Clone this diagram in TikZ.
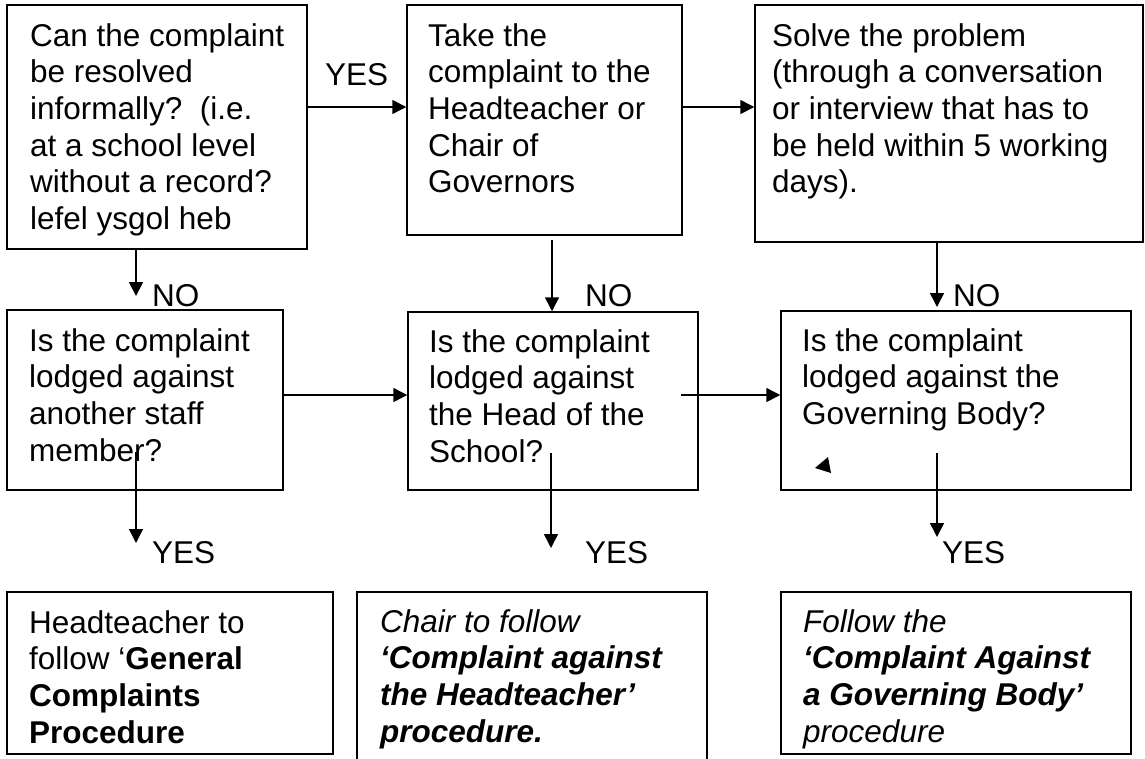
\documentclass[tikz,border=0pt]{standalone}
\usepackage{fontspec}
\setmainfont{Liberation Sans}
\usetikzlibrary{arrows.meta,fit}
% left-aligned block of lines; its baseline is that of the first line
\newcommand\flowtext[1]{\vtop{\baselineskip=36.7pt\lineskiplimit=-100pt\halign{##\hfil\cr#1\crcr}}}
\begin{document}
\begin{tikzpicture}[x=1pt,y=-1pt,
  box/.style={draw=black, line width=1.5pt, inner sep=0pt, fit={#1}},
  txt/.style={anchor=base west, inner sep=0pt, font=\fontsize{31.5}{36.7}\selectfont},
  arr/.style={line width=1.5pt, -{Triangle[length=14pt,width=14pt]}}]
\useasboundingbox (0,0) rectangle (1145,758);
\clip (0,0) rectangle (1145,758);

% boxes
\node[box={(7,5) (307,249)}] (A) {};
\node[box={(407,5) (682,235)}] (B) {};
\node[box={(755,5) (1143,242)}] (C) {};
\node[box={(7,310) (283,490)}] (D) {};
\node[box={(408,312) (698,490)}] (E) {};
\node[box={(781,311) (1131,490)}] (F) {};
\node[box={(7,592) (333,754)}] (G) {};
\node[box={(357,592) (707,790)}] (H) {};
\node[box={(781,592) (1131,754)}] (I) {};

% box texts
\node[txt] (At) at (30,46) {\flowtext{Can the complaint\cr be resolved\cr informally?\ \ (i.e.\cr at a school level\cr without a record?\cr lefel ysgol heb}};
\node[txt] (Bt) at (428,46) {\flowtext{Take the\cr complaint to the\cr Headteacher or\cr Chair of\cr Governors}};
\node[txt] (Ct) at (772,46) {\flowtext{Solve the problem\cr (through a conversation\cr or interview that has to\cr be held within 5 working\cr days).}};
\node[txt] (Dt) at (29,351) {\flowtext{Is the complaint\cr lodged against\cr another staff\cr member?}};
\node[txt] (Et) at (429,352) {\flowtext{Is the complaint\cr lodged against\cr the Head of the\cr School?}};
\node[txt] (Ft) at (802,351) {\flowtext{Is the complaint\cr lodged against the\cr Governing Body?}};
\node[txt] (Gt) at (29,633) {\flowtext{Headteacher to\cr follow ‘\textbf{General}\cr \textbf{Complaints}\cr \textbf{Procedure}}};
\node[txt] (Ht) at (380,632) {\flowtext{\textit{Chair to follow}\cr \textbf{\textit{‘Complaint against}}\cr \textbf{\textit{the Headteacher’}}\cr \textbf{\textit{procedure.}}}};
\node[txt] (It) at (803,632) {\flowtext{\textit{Follow the}\cr \textbf{\textit{‘Complaint Against}}\cr \textbf{\textit{a Governing Body’}}\cr \textit{procedure}}};

% arrow rows and free ends
\coordinate (r1) at (0,107);
\coordinate (r2) at (0,395);
\coordinate (nA) at (136,296);
\coordinate (nBs) at (552,240);
\coordinate (nC) at (937,307);
\coordinate (eFs) at (681,395);
\coordinate (yDs) at (136,452);
\coordinate (yDe) at (136,543);
\coordinate (yEs) at (551,453);
\coordinate (yEe) at (551,548);
\coordinate (yFs) at (937,453);
\coordinate (yFe) at (937,537);

% connectors
\draw[arr] (A.east |- r1) -- (B.west |- r1);
\draw[arr] (B.east |- r1) -- (C.west |- r1);
\draw[arr] (A.south -| nA) -- (nA);
\draw[arr] (nBs) -- (E.north -| nBs);
\draw[arr] (C.south -| nC) -- (nC);
\draw[arr] (D.east |- r2) -- (E.west |- r2);
\draw[arr] (eFs) -- (F.west |- eFs);
\draw[arr] (yDs) -- (yDe);
\draw[arr] (yEs) -- (yEe);
\draw[arr] (yFs) -- (yFe);

% stray arrowhead inside the last question box
\fill (815,468) -- (828,457) -- (831,473) -- cycle;

% connector labels
\node[txt] (yes1) at (325,85) {YES};
\node[txt] (no1) at (152,306) {NO};
\node[txt] (no2) at (585,306) {NO};
\node[txt] (no3) at (953,306) {NO};
\node[txt] (yes2) at (152,563) {YES};
\node[txt] (yes3) at (585,563) {YES};
\node[txt] (yes4) at (942,563) {YES};
\end{tikzpicture}
\end{document}
